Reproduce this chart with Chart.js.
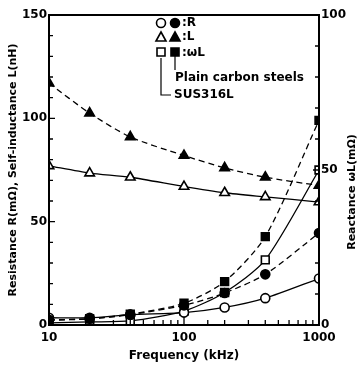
<!DOCTYPE html>
<html>
<head>
<meta charset="utf-8">
<script src="https://cdn.jsdelivr.net/npm/chart.js@4"></script>
<style>
  html, body { margin: 0; padding: 0; background: #fff; }
  #wrap { width: 359px; height: 365px; }
</style>
</head>
<body>
<div id="wrap"><canvas id="chart" width="359" height="365"></canvas></div>
<script>
// frequency (kHz)
const freq = [10, 20, 40, 100, 200, 400, 1000];
// resistance R (mOhm), left axis
const rCarbon = [2.5, 3, 5, 9.5, 15.5, 24.5, 44.5];
const rSus = [3.5, 3.5, 5, 6, 8.5, 13, 22.5];
// self-inductance L (nH), left axis
const lCarbon = [117, 102.5, 91, 82, 76, 71.5, 67.5];
const lSus = [77, 73.5, 71.5, 67, 64, 62, 59.5];
// reactance wL (mOhm), right axis
const wlCarbon = [1.5, 2, 3.5, 7, 14, 28.5, 66];
const wlSus = [0.7, 1, 1.3, 4.5, 10.5, 21, 50];

const leftLabels = [0, 50, 100, 150];
const rightLabels = [0, 50, 100];
const freqLabels = [10, 100, 1000];

const FONT = "DejaVu Sans";

function pts(ys) {
    return freq.map((f, i) => ({ x: f, y: ys[i] }));
}

function series(label, ys, axis, style, filled, dashed, r) {
    return {
        label: label,
        data: pts(ys),
        yAxisID: axis,
        borderColor: "#000",
        borderWidth: 1.3,
        borderDash: dashed ? [6, 4] : [],
        backgroundColor: filled ? "#000" : "#fff",
        pointStyle: style,
        pointRadius: r,
        pointBorderWidth: 1.6,
        pointBorderColor: "#000",
        pointBackgroundColor: filled ? "#000" : "#fff",
        fill: false,
        tension: 0.25
    };
}

// inward ticks, frame, legend and right title
const decor = {
    id: "decor",
    afterDraw(chart) {
        const ctx = chart.ctx;
        const a = chart.chartArea;
        const sx = chart.scales.x, sy = chart.scales.y, sy2 = chart.scales.y2;
        ctx.save();
        ctx.strokeStyle = "#000";
        ctx.lineWidth = 2;
        ctx.strokeRect(a.left, a.top, a.right - a.left, a.bottom - a.top);

        ctx.lineWidth = 1.3;
        ctx.beginPath();
        sx.ticks.forEach(t => {
            const px = sx.getPixelForValue(t.value);
            if (px < a.left - 0.5 || px > a.right + 0.5) return;
            const major = freqLabels.includes(t.value);
            ctx.moveTo(px, a.bottom);
            ctx.lineTo(px, a.bottom - (major ? 8 : 5));
        });
        sy.ticks.forEach(t => {
            const py = sy.getPixelForValue(t.value);
            const major = leftLabels.includes(t.value);
            ctx.moveTo(a.left, py);
            ctx.lineTo(a.left + (major ? 6 : 4), py);
        });
        sy2.ticks.forEach(t => {
            const py = sy2.getPixelForValue(t.value);
            const major = rightLabels.includes(t.value);
            ctx.moveTo(a.right, py);
            ctx.lineTo(a.right - (major ? 6 : 4), py);
        });
        ctx.stroke();

        // legend markers
        function mark(style, x, y, filled) {
            ctx.beginPath();
            if (style === "circle") {
                ctx.arc(x, y, 4.5, 0, Math.PI * 2);
            } else if (style === "triangle") {
                ctx.moveTo(x, y - 5);
                ctx.lineTo(x + 5, y + 4);
                ctx.lineTo(x - 5, y + 4);
                ctx.closePath();
            } else {
                ctx.rect(x - 4, y - 4, 8, 8);
            }
            ctx.fillStyle = filled ? "#000" : "#fff";
            ctx.fill();
            ctx.lineWidth = 1.6;
            ctx.stroke();
        }
        mark("circle", 161, 23, false);
        mark("circle", 175, 23, true);
        mark("triangle", 161, 37, false);
        mark("triangle", 175, 37, true);
        mark("rect", 161, 52, false);
        mark("rect", 175, 52, true);

        ctx.lineWidth = 1.2;
        ctx.beginPath();
        ctx.moveTo(175, 56); ctx.lineTo(175, 70);
        ctx.moveTo(161, 58); ctx.lineTo(161, 95); ctx.lineTo(171, 95);
        ctx.stroke();

        ctx.fillStyle = "#000";
        ctx.font = "bold 12px '" + FONT + "'";
        ctx.textBaseline = "middle";
        ctx.textAlign = "left";
        ctx.fillText(":R", 182, 23);
        ctx.fillText(":L", 182, 37);
        ctx.fillText(":ωL", 182, 53);
        ctx.fillText("Plain carbon steels", 175, 78);
        ctx.fillText("SUS316L", 174, 95);

        // right axis title
        ctx.translate(352, 192);
        ctx.rotate(-Math.PI / 2);
        ctx.textAlign = "center";
        ctx.font = "bold 11px '" + FONT + "'";
        ctx.fillText("Reactance ωL(mΩ)", 0, 0);
        ctx.restore();
    }
};

const tickFont = { family: FONT, size: 12, weight: "bold" };

new Chart(document.getElementById("chart"), {
    type: "line",
    data: {
        datasets: [
            series("R carbon", rCarbon, "y", "circle", true, true, 4.5),
            series("R SUS316L", rSus, "y", "circle", false, false, 4.5),
            series("L carbon", lCarbon, "y", "triangle", true, true, 5.5),
            series("L SUS316L", lSus, "y", "triangle", false, false, 5.5),
            series("wL carbon", wlCarbon, "y2", "rect", true, true, 5.5),
            series("wL SUS316L", wlSus, "y2", "rect", false, false, 5.5)
        ]
    },
    options: {
        responsive: false,
        animation: false,
        layout: { padding: { top: 15, left: 0, right: 0, bottom: 0 } },
        plugins: { legend: { display: false }, tooltip: { enabled: false } },
        scales: {
            x: {
                type: "logarithmic",
                min: 10,
                max: 1000,
                afterFit(s) { s.height = 40; },
                grid: { display: false, drawTicks: false },
                border: { display: false },
                ticks: {
                    color: "#000",
                    font: tickFont,
                    padding: 6,
                    autoSkip: false,
                    maxRotation: 0,
                    callback: v => freqLabels.includes(v) ? String(v) : ""
                },
                title: {
                    display: true,
                    text: "Frequency (kHz)",
                    color: "#000",
                    font: { family: FONT, size: 12, weight: "bold" },
                    padding: { top: 0, bottom: 2 }
                }
            },
            y: {
                position: "left",
                min: 0,
                max: 150,
                afterFit(s) { s.width = 49; },
                grid: { display: false, drawTicks: false },
                border: { display: false },
                ticks: {
                    stepSize: 10,
                    color: "#000",
                    font: tickFont,
                    padding: 2,
                    callback: v => leftLabels.includes(v) ? String(v) : ""
                },
                title: {
                    display: true,
                    text: "Resistance R(mΩ), Self-inductance L(nH)",
                    color: "#000",
                    font: { family: FONT, size: 11, weight: "bold" },
                    padding: { top: 7, bottom: 0 }
                }
            },
            y2: {
                position: "right",
                min: 0,
                max: 100,
                afterFit(s) { s.width = 40; },
                grid: { display: false, drawTicks: false },
                border: { display: false },
                ticks: {
                    stepSize: 10,
                    color: "#000",
                    font: tickFont,
                    padding: 2,
                    callback: v => rightLabels.includes(v) ? String(v) : ""
                }
            }
        }
    },
    plugins: [decor]
});
</script>
</body>
</html>
